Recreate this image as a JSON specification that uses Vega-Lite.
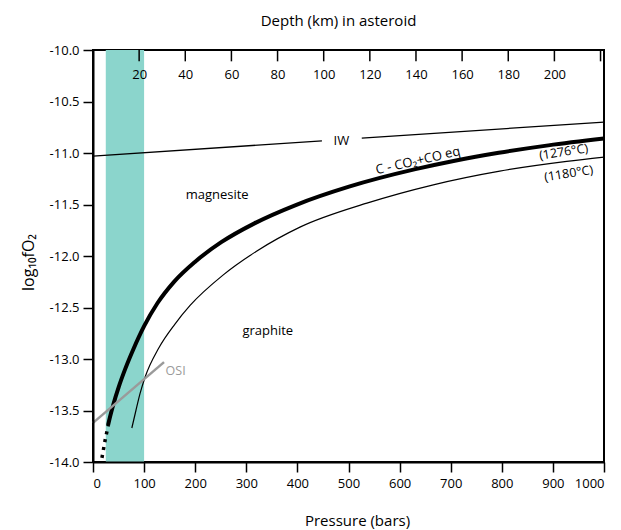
{
  "$schema": "https://vega.github.io/schema/vega-lite/v6.json",
  "width": 511,
  "height": 412,
  "autosize": {"type": "none"},
  "padding": {"left": 93, "top": 50, "right": 17, "bottom": 68},
  "config": {
    "font": "Open Sans",
    "view": {"stroke": "black", "strokeWidth": 2},
    "axis": {"grid": false, "domainColor": "black", "domainWidth": 2, "tickColor": "black", "tickWidth": 1.5, "labelColor": "black", "titleColor": "black", "labelFontSize": 13, "titleFontSize": 15, "titleFontWeight": "normal", "labelFont": "Open Sans", "titleFont": "Open Sans"}
  },
  "datasets": {
    "curves": [
      {"P": 0, "fO2": -11.03, "series": "IW_a"},
      {"P": 448, "fO2": -10.882, "series": "IW_a"},
      {"P": 526, "fO2": -10.856, "series": "IW_b"},
      {"P": 1000, "fO2": -10.70, "series": "IW_b"},
      {"P": 29.5, "fO2": -13.642, "series": "T1276"},
      {"P": 31.6, "fO2": -13.597, "series": "T1276"},
      {"P": 35.5, "fO2": -13.52, "series": "T1276"},
      {"P": 39.8, "fO2": -13.441, "series": "T1276"},
      {"P": 50.1, "fO2": -13.275, "series": "T1276"},
      {"P": 63.1, "fO2": -13.096, "series": "T1276"},
      {"P": 79.4, "fO2": -12.9, "series": "T1276"},
      {"P": 100, "fO2": -12.681, "series": "T1276"},
      {"P": 126, "fO2": -12.459, "series": "T1276"},
      {"P": 158.5, "fO2": -12.251, "series": "T1276"},
      {"P": 200, "fO2": -12.055, "series": "T1276"},
      {"P": 251, "fO2": -11.866, "series": "T1276"},
      {"P": 316, "fO2": -11.683, "series": "T1276"},
      {"P": 398, "fO2": -11.503, "series": "T1276"},
      {"P": 501, "fO2": -11.327, "series": "T1276"},
      {"P": 631, "fO2": -11.157, "series": "T1276"},
      {"P": 708, "fO2": -11.075, "series": "T1276"},
      {"P": 794, "fO2": -10.998, "series": "T1276"},
      {"P": 891, "fO2": -10.926, "series": "T1276"},
      {"P": 1000, "fO2": -10.86, "series": "T1276"},
      {"P": 17.5, "fO2": -13.96, "series": "T1276dot"},
      {"P": 24, "fO2": -13.78, "series": "T1276dot"},
      {"P": 30, "fO2": -13.64, "series": "T1276dot"},
      {"P": 76, "fO2": -13.67, "series": "T1180"},
      {"P": 84, "fO2": -13.5, "series": "T1180"},
      {"P": 92, "fO2": -13.337, "series": "T1180"},
      {"P": 102, "fO2": -13.175, "series": "T1180"},
      {"P": 129, "fO2": -12.891, "series": "T1180"},
      {"P": 160, "fO2": -12.663, "series": "T1180"},
      {"P": 190, "fO2": -12.48, "series": "T1180"},
      {"P": 255, "fO2": -12.183, "series": "T1180"},
      {"P": 320, "fO2": -11.954, "series": "T1180"},
      {"P": 405, "fO2": -11.72, "series": "T1180"},
      {"P": 536, "fO2": -11.487, "series": "T1180"},
      {"P": 666, "fO2": -11.309, "series": "T1180"},
      {"P": 796, "fO2": -11.176, "series": "T1180"},
      {"P": 927, "fO2": -11.082, "series": "T1180"},
      {"P": 1000, "fO2": -11.04, "series": "T1180"},
      {"P": 0, "fO2": -13.62, "series": "OSI"},
      {"P": 139, "fO2": -13.03, "series": "OSI"}
    ],
    "labels": [
      {"P": 243, "fO2": -11.41, "text": "magnesite", "kind": "plain"},
      {"P": 342, "fO2": -12.73, "text": "graphite", "kind": "plain"},
      {"P": 486, "fO2": -10.88, "text": "IW", "kind": "plain"},
      {"P": 142, "fO2": -13.12, "text": "OSI", "kind": "osi"},
      {"P": 636, "fO2": -11.075, "text": "C - CO₂+CO eq", "kind": "eq"},
      {"P": 921, "fO2": -10.99, "text": "(1276°C)", "kind": "temp"},
      {"P": 931, "fO2": -11.2, "text": "(1180°C)", "kind": "temp"}
    ],
    "depthTicks": [
      {"depth": 20}, {"depth": 40}, {"depth": 60}, {"depth": 80}, {"depth": 100}, {"depth": 120},
      {"depth": 140}, {"depth": 160}, {"depth": 180}, {"depth": 200}, {"depth": 220}
    ]
  },
  "layer": [
    {
      "layer": [
        {
          "data": {"values": [{"P0": 25, "P1": 100}]},
          "mark": {"type": "rect", "color": "#8bd5cc"},
          "encoding": {
            "x": {"field": "P0", "type": "quantitative", "scale": {"domain": [0, 1000], "nice": false}, "title": "Pressure (bars)",
              "axis": {"orient": "bottom", "zindex": 1, "values": [0,100,200,300,400,500,600,700,800,900,1000], "format": "d", "tickSize": 10, "labelPadding": 5, "titleX": 264, "titleY": 58, "titleBaseline": "middle"}},
            "x2": {"field": "P1"}
          }
        },
        {
          "data": {"name": "curves"},
          "transform": [{"filter": "datum.series === 'IW_a' || datum.series === 'IW_b'"}],
          "mark": {"type": "line", "color": "black", "strokeWidth": 1.3},
          "encoding": {
            "x": {"field": "P", "type": "quantitative"},
            "y": {"field": "fO2", "type": "quantitative", "scale": {"domain": [-14, -10], "nice": false, "zero": false}, "title": "log₁₀fO₂",
              "axis": {"zindex": 1, "values": [-14,-13.5,-13,-12.5,-12,-11.5,-11,-10.5,-10], "labelExpr": "replace(format(datum.value, '.1f'), '−', '-')", "tickSize": 10, "labelPadding": 4, "titleX": -65, "titleY": 212, "titleBaseline": "middle", "titleAngle": -90, "titleFontSize": 16}},
            "detail": {"field": "series"}
          }
        },
        {
          "data": {"name": "curves"},
          "transform": [{"filter": "datum.series === 'T1180'"}],
          "mark": {"type": "line", "color": "black", "strokeWidth": 1.2, "interpolate": "monotone"},
          "encoding": {
            "x": {"field": "P", "type": "quantitative"},
            "y": {"field": "fO2", "type": "quantitative"}
          }
        },
        {
          "data": {"name": "curves"},
          "transform": [{"filter": "datum.series === 'T1276'"}],
          "mark": {"type": "line", "color": "black", "strokeWidth": 4, "interpolate": "monotone"},
          "encoding": {
            "x": {"field": "P", "type": "quantitative"},
            "y": {"field": "fO2", "type": "quantitative"}
          }
        },
        {
          "data": {"name": "curves"},
          "transform": [{"filter": "datum.series === 'T1276dot'"}],
          "mark": {"type": "line", "color": "black", "strokeWidth": 3.5, "strokeDash": [3, 5]},
          "encoding": {
            "x": {"field": "P", "type": "quantitative"},
            "y": {"field": "fO2", "type": "quantitative"}
          }
        },
        {
          "data": {"name": "curves"},
          "transform": [{"filter": "datum.series === 'OSI'"}],
          "mark": {"type": "line", "color": "#9a9a9a", "strokeWidth": 2.5},
          "encoding": {
            "x": {"field": "P", "type": "quantitative"},
            "y": {"field": "fO2", "type": "quantitative"}
          }
        },
        {
          "data": {"name": "labels"},
          "transform": [{"filter": "datum.kind === 'plain'"}],
          "mark": {"type": "text", "fontSize": 13, "color": "black"},
          "encoding": {
            "x": {"field": "P", "type": "quantitative"},
            "y": {"field": "fO2", "type": "quantitative"},
            "text": {"field": "text"}
          }
        },
        {
          "data": {"name": "labels"},
          "transform": [{"filter": "datum.kind === 'osi'"}],
          "mark": {"type": "text", "fontSize": 12.5, "color": "#9a9a9a", "align": "left"},
          "encoding": {
            "x": {"field": "P", "type": "quantitative"},
            "y": {"field": "fO2", "type": "quantitative"},
            "text": {"field": "text"}
          }
        },
        {
          "data": {"name": "labels"},
          "transform": [{"filter": "datum.kind === 'eq'"}],
          "mark": {"type": "text", "fontSize": 13, "color": "black", "angle": -13},
          "encoding": {
            "x": {"field": "P", "type": "quantitative"},
            "y": {"field": "fO2", "type": "quantitative"},
            "text": {"field": "text"}
          }
        },
        {
          "data": {"name": "labels"},
          "transform": [{"filter": "datum.kind === 'temp'"}],
          "mark": {"type": "text", "fontSize": 12.5, "color": "black", "angle": -9},
          "encoding": {
            "x": {"field": "P", "type": "quantitative"},
            "y": {"field": "fO2", "type": "quantitative"},
            "text": {"field": "text"}
          }
        }
      ]
    },
    {
      "data": {"name": "depthTicks"},
      "mark": {"type": "rule", "color": "black", "strokeWidth": 1.5},
      "encoding": {
        "x": {"field": "depth", "type": "quantitative", "scale": {"domain": [0, 221.5], "nice": false}, "title": "Depth (km) in asteroid",
          "axis": {"orient": "bottom", "offset": -412, "zindex": 2, "ticks": false, "values": [20,40,60,80,100,120,140,160,180,200,220], "labelExpr": "datum.value > 210 ? '' : datum.label", "labelPadding": 18, "domain": false, "titleX": 245, "titleY": -30, "titleBaseline": "middle"}},
        "y": {"datum": -10},
        "y2": {"datum": -10.11}
      }
    }
  ],
  "resolve": {"scale": {"x": "independent"}}
}
